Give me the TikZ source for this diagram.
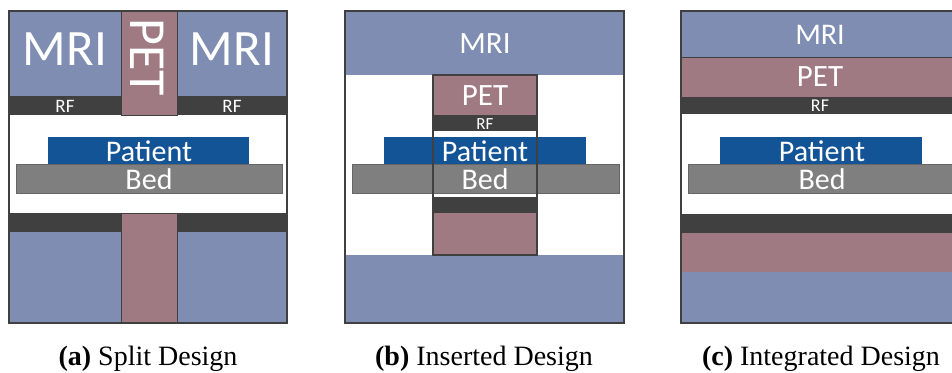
\documentclass[tikz,border=0pt]{standalone}
\usepackage{fontspec}
\setmainfont{Liberation Serif}
\newfontfamily\calibri{Carlito}
\usepackage{tikz}
\definecolor{mri}{HTML}{7E8DB1}
\definecolor{pet}{HTML}{A07A82}
\definecolor{rfgray}{HTML}{404040}
\definecolor{patient}{HTML}{135496}
\definecolor{bed}{HTML}{7F7F7F}
\newcommand{\fsz}[1]{\fontsize{#1}{#1}\selectfont}

\begin{document}
\begin{tikzpicture}[x=0.5pt, y=-0.5pt,
    mriblock/.style={fill=mri},
    petblock/.style={fill=pet, draw=rfgray, line width=0.4pt},
    rfbar/.style={fill=rfgray},
    patientblock/.style={fill=patient},
    bedblock/.style={fill=bed, draw=black!60, line width=0.5pt},
    frame/.style={draw=rfgray, line width=1pt},
    lbl/.style={text=white, font=\calibri, inner sep=0pt},
    caption/.style={font=\fsz{14}, anchor=base, inner sep=0pt}]
    \clip (0,0) rectangle (952,372);

    % Split design
    \fill[mriblock] (9,11) rectangle (121,96);
    \fill[mriblock] (177,11) rectangle (287,96);
    \fill[rfbar] (9,96) rectangle (121,115);
    \fill[rfbar] (177,96) rectangle (287,115);
    \draw[petblock] (121,11) rectangle (177,115);
    \fill[rfbar] (9,213) rectangle (121,232);
    \fill[rfbar] (177,213) rectangle (287,232);
    \fill[mriblock] (9,232) rectangle (121,323);
    \fill[mriblock] (177,232) rectangle (287,323);
    \draw[petblock] (121,213) rectangle (177,323);
    \fill[patientblock] (48,137) rectangle (249,164);
    \draw[bedblock] (16,164) rectangle (282,193);
    \draw[frame] (9,11) rectangle (287,323);
    \node[lbl, font=\calibri\fsz{25.5}] (mriAL) at (65,49) {MRI};
    \node[lbl, font=\calibri\fsz{25.5}] (mriAR) at (232,49) {MRI};
    \node[lbl, font=\calibri\fsz{26}, rotate=-90] (petA) at (147,57) {PET};
    \node[lbl, font=\calibri\fsz{9.5}] (rfAL) at (65,106) {RF};
    \node[lbl, font=\calibri\fsz{9.5}] (rfAR) at (232,106) {RF};
    \node[lbl, font=\calibri\fsz{15}] (patA) at (149,151) {Patient};
    \node[lbl, font=\calibri\fsz{15}] (bedA) at (149,179) {Bed};

    % Inserted design
    \fill[mriblock] (345,11) rectangle (624,75);
    \fill[mriblock] (345,255) rectangle (624,323);
    \fill[pet] (433,75) rectangle (537,115);
    \fill[rfbar] (433,115) rectangle (537,131);
    \fill[rfbar] (433,197) rectangle (537,213);
    \fill[pet] (433,213) rectangle (537,255);
    \fill[patientblock] (384,137) rectangle (586,164);
    \draw[bedblock] (352,164) rectangle (619,193);
    \draw[rfgray, line width=0.75pt] (433,75) rectangle (537,255);
    \draw[frame] (345,11) rectangle (624,323);
    \node[lbl, font=\calibri\fsz{15.5}] (mriB) at (485,44) {MRI};
    \node[lbl, font=\calibri\fsz{15.5}] (petB) at (485,96) {PET};
    \node[lbl, font=\calibri\fsz{8.5}] (rfB) at (485,124) {RF};
    \node[lbl, font=\calibri\fsz{15}] (patB) at (485,151) {Patient};
    \node[lbl, font=\calibri\fsz{15}] (bedB) at (485,179) {Bed};

    % Integrated design
    \fill[mriblock] (681,11) rectangle (960,57);
    \draw[petblock] (681,57) rectangle (960,97);
    \fill[rfbar] (681,97) rectangle (960,114);
    \fill[patientblock] (720,137) rectangle (922,164);
    \draw[bedblock] (688,164) rectangle (960,193);
    \fill[rfbar] (681,214) rectangle (960,232);
    \draw[petblock] (681,232) rectangle (960,272);
    \fill[mriblock] (681,272) rectangle (960,323);
    \draw[frame] (681,11) rectangle (960,323);
    \node[lbl, font=\calibri\fsz{15}] (mriC) at (820,35) {MRI};
    \node[lbl, font=\calibri\fsz{15.5}] (petC) at (820,77) {PET};
    \node[lbl, font=\calibri\fsz{9}] (rfC) at (820,106) {RF};
    \node[lbl, font=\calibri\fsz{15}] (patC) at (822,151) {Patient};
    \node[lbl, font=\calibri\fsz{15}] (bedC) at (822,179) {Bed};

    % Captions
    \node[caption] (capA) at (148,365) {\textbf{(a)} Split Design};
    \node[caption] (capB) at (484,365) {\textbf{(b)} Inserted Design};
    \node[caption] (capC) at (821,365) {\textbf{(c)} Integrated Design};
\end{tikzpicture}
\end{document}
